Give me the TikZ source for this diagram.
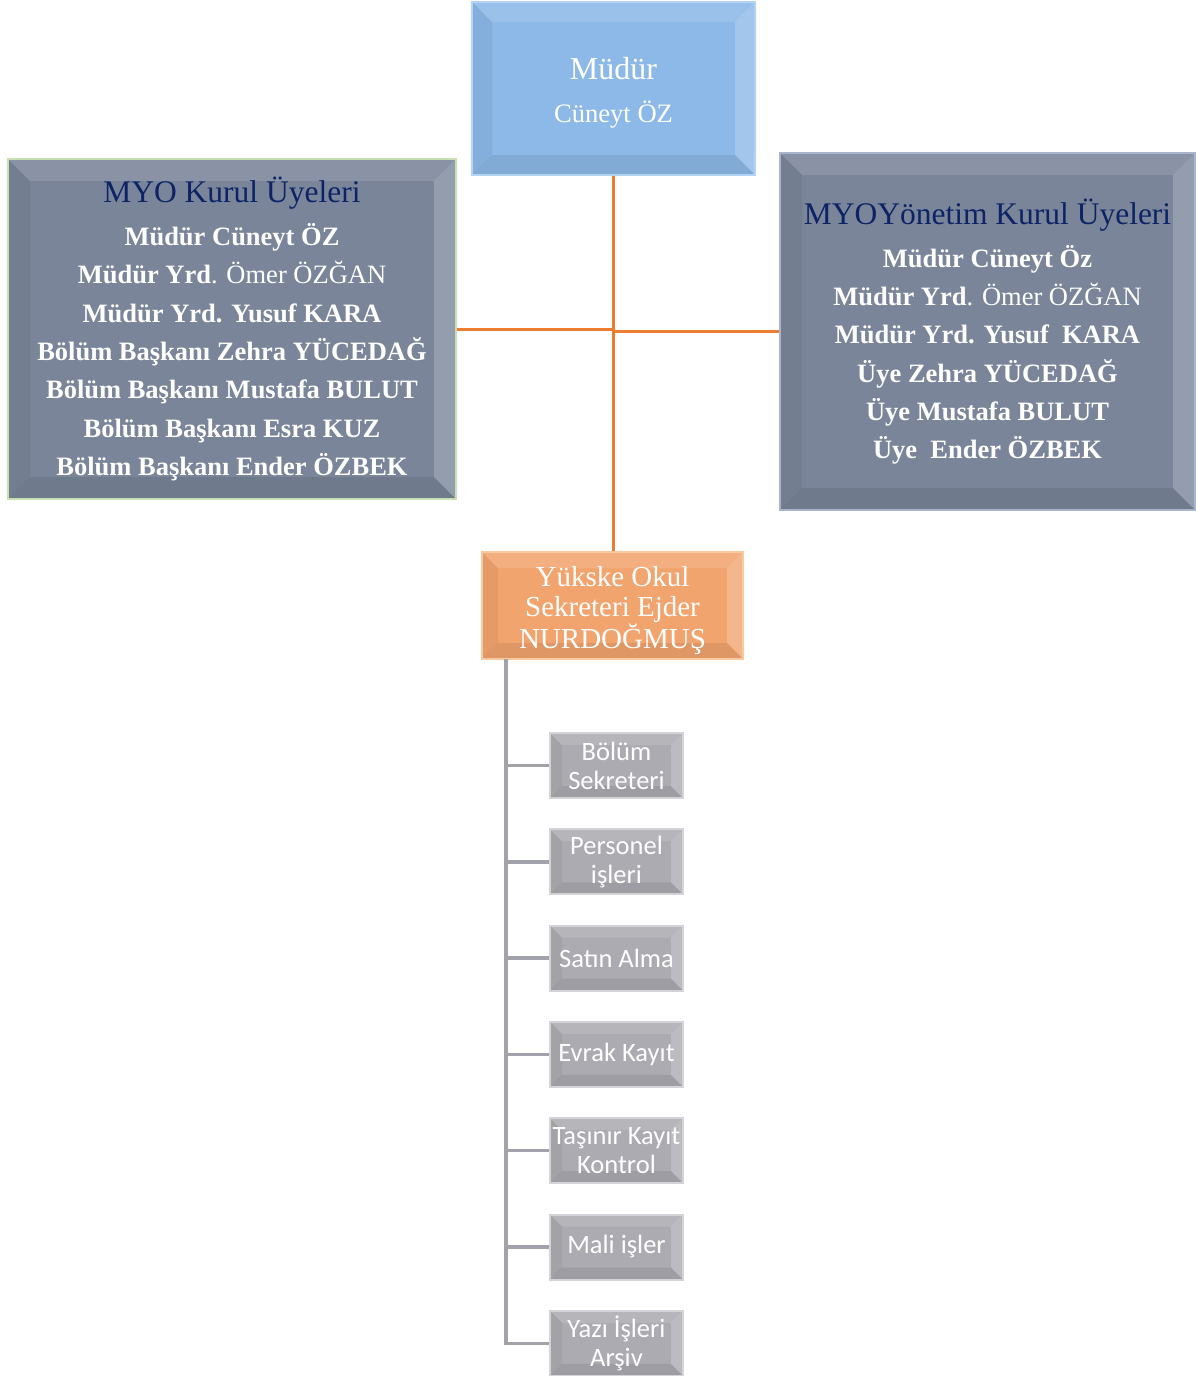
\documentclass[tikz,border=0pt]{standalone}
\usepackage{fontspec}
\setmainfont{Liberation Serif}
\newfontfamily\calibri{Carlito}
\usetikzlibrary{calc, positioning}
\definecolor{mavi}{HTML}{8CB9E8}
\definecolor{mavikenar}{HTML}{B2D4F6}
\definecolor{arduvaz}{HTML}{7A8599}
\definecolor{yesilkenar}{HTML}{C6E0B4}
\definecolor{gricekenar}{HTML}{A9B5CB}
\definecolor{lacivert}{HTML}{0C2466}
\definecolor{turuncu}{HTML}{F2A46E}
\definecolor{turuncukenar}{HTML}{F9C9A0}
\definecolor{hat}{HTML}{ED7D31}
\definecolor{gri}{HTML}{ABABB1}
\definecolor{grikenar}{HTML}{D4D4D8}
\definecolor{dal}{HTML}{A2A2AA}

\begin{document}
\begin{tikzpicture}[x=1pt, y=-1pt,
        bevel/.style={path picture={
            \path (path picture bounding box.north west) coordinate (bnw)
                  (path picture bounding box.south east) coordinate (bse);
            \fill[white, opacity=.12] (bnw) -- (bnw -| bse) -- ($(bnw -| bse)+(-#1,-#1)$) -- ($(bnw)+(#1,-#1)$) -- cycle;
            \fill[white, opacity=.2] (bnw -| bse) -- (bse) -- ($(bse)+(-#1,#1)$) -- ($(bnw -| bse)+(-#1,-#1)$) -- cycle;
            \fill[black, opacity=.08] (bse) -- (bse -| bnw) -- ($(bse -| bnw)+(#1,#1)$) -- ($(bse)+(-#1,#1)$) -- cycle;
            \fill[black, opacity=.05] (bse -| bnw) -- (bnw) -- ($(bnw)+(#1,-#1)$) -- ($(bse -| bnw)+(#1,#1)$) -- cycle;
        }},
        kutu/.style={rectangle, inner sep=0pt, align=center, text=white, line width=2.5pt},
        altkutu/.style={kutu, bevel=12pt, fill=gri, draw=grikenar, line width=2pt,
            minimum width=133pt, minimum height=65pt,
            font=\calibri\fontsize{26.5}{29}\selectfont},
        turuncuhat/.style={draw=hat, line width=3pt},
        grihat/.style={draw=dal, line width=3.5pt}]
    \useasboundingbox (0,0) rectangle (1195,1376);

    \node[kutu, bevel=20pt, fill=mavi, draw=mavikenar, minimum width=283pt, minimum height=173pt,
          font=\fontsize{26.6}{43}\selectfont] (mudur) at (613.5,88.5)
        {\rule{0pt}{30pt}{\fontsize{32}{43}\selectfont Müdür}\\Cüneyt ÖZ};

    \node[kutu, bevel=22pt, fill=arduvaz, draw=yesilkenar, minimum width=448pt, minimum height=340pt,
          font=\fontsize{26.5}{38.3}\selectfont] (kurul) at (232,329)
        {{\fontsize{31.5}{38.3}\selectfont\color{lacivert}MYO Kurul Üyeleri}\\[4.7pt]
         \textbf{Müdür Cüneyt ÖZ}\\
         \textbf{Müdür Yrd}. Ömer ÖZĞAN\\
         \textbf{Müdür Yrd. Yusuf KARA}\\
         \textbf{Bölüm Başkanı Zehra YÜCEDAĞ}\\
         \textbf{Bölüm Başkanı Mustafa BULUT}\\
         \textbf{Bölüm Başkanı Esra KUZ}\\
         \textbf{Bölüm Başkanı Ender ÖZBEK}};

    \node[kutu, bevel=22pt, fill=arduvaz, draw=gricekenar, minimum width=415pt, minimum height=357pt,
          font=\fontsize{26.5}{38.2}\selectfont] (yonetim) at (987.5,331.5)
        {{\fontsize{31.5}{38.2}\selectfont\color{lacivert}MYOYönetim Kurul Üyeleri}\\[4.8pt]
         \textbf{Müdür Cüneyt Öz}\\
         \textbf{Müdür Yrd}. Ömer ÖZĞAN\\
         \textbf{Müdür Yrd. Yusuf\ \ KARA}\\
         \textbf{Üye Zehra YÜCEDAĞ}\\
         \textbf{Üye Mustafa BULUT}\\
         \textbf{Üye\ \ Ender ÖZBEK}};

    \node[kutu, bevel=16pt, fill=turuncu, draw=turuncukenar, minimum width=261pt, minimum height=107pt,
          font=\fontsize{29}{30.5}\selectfont] (sekreter) at (612.5,605.5)
        {\rule{0pt}{30pt}Yükske Okul\\Sekreteri Ejder\\NURDOĞMUŞ};

    \node[altkutu] (b1) at (616.5,765.5) {Bölüm\\Sekreteri};
    \node[altkutu, below=29.3pt of b1] (b2) {Personel\\işleri};
    \node[altkutu, below=29.3pt of b2] (b3) {Satın Alma};
    \node[altkutu, below=29.3pt of b3] (b4) {Evrak Kayıt};
    \node[altkutu, below=29.3pt of b4] (b5) {Taşınır Kayıt\\Kontrol};
    \node[altkutu, below=29.3pt of b5] (b6) {Mali işler};
    \node[altkutu, below=29.3pt of b6] (b7) {Yazı İşleri\\Arşiv};

    \draw[turuncuhat] (mudur.south) -- (mudur.south |- sekreter.north);
    \draw[turuncuhat] (kurul.east) -- (kurul.east -| mudur.south);
    \draw[turuncuhat] (yonetim.west) -- (yonetim.west -| mudur.south);

    \coordinate (govde) at (506,659);
    \draw[grihat] (govde) -- (govde |- b7.west) -- (b7.west);
    \draw[grihat] (govde |- b1.west) -- (b1.west)
                  (govde |- b2.west) -- (b2.west)
                  (govde |- b3.west) -- (b3.west)
                  (govde |- b4.west) -- (b4.west)
                  (govde |- b5.west) -- (b5.west)
                  (govde |- b6.west) -- (b6.west);
\end{tikzpicture}
\end{document}
